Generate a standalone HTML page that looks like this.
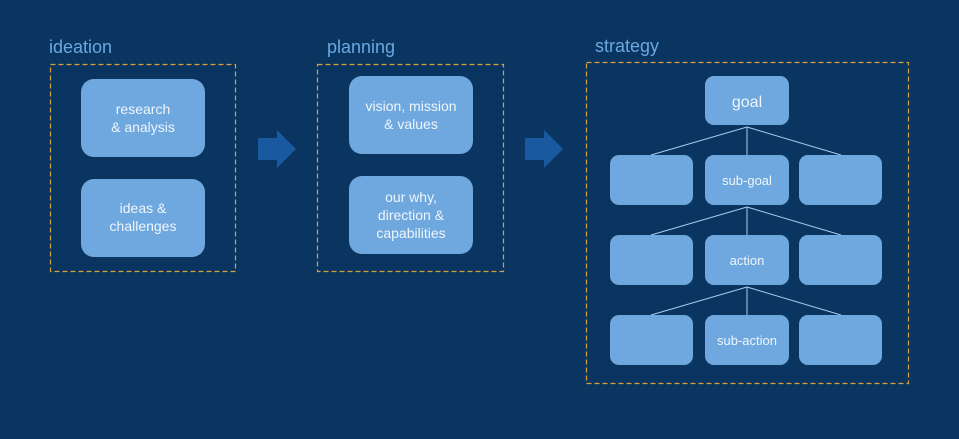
<!DOCTYPE html>
<html><head><style>
body{margin:0;background:#0a3561;}
svg{display:block}
text{font-family:"Liberation Sans",sans-serif;}
</style></head><body>
<svg width="959" height="439" viewBox="0 0 959 439">
<rect width="959" height="439" fill="#0a3561"/>
<g font-size="18" fill="#6aa8e0">
<text x="49" y="53">ideation</text>
<text x="327" y="53">planning</text>
<text x="595" y="52">strategy</text>
</g>
<g fill="none" stroke="#d9a040" stroke-width="1.2" stroke-dasharray="5,3">
<rect x="50.5" y="64.5" width="185" height="207"/>
<rect x="317.5" y="64.5" width="186" height="207"/>
<rect x="586.5" y="62.5" width="322" height="321"/>
</g>
<g fill="#1859a0">
<polygon points="258,138 277,138 277,130 296,149 277,168 277,160 258,160"/>
<polygon points="525,138 544,138 544,130 563,149 544,168 544,160 525,160"/>
</g>
<g stroke="#a8cbee" stroke-width="1">
<line x1="747" y1="127" x2="651" y2="155"/><line x1="747" y1="127" x2="747" y2="155"/><line x1="747" y1="127" x2="841" y2="155"/>
<line x1="747" y1="207" x2="651" y2="235"/><line x1="747" y1="207" x2="747" y2="235"/><line x1="747" y1="207" x2="841" y2="235"/>
<line x1="747" y1="287" x2="651" y2="315"/><line x1="747" y1="287" x2="747" y2="315"/><line x1="747" y1="287" x2="841" y2="315"/>
</g>
<g fill="#6fa8de">
<rect x="81" y="79" width="124" height="78" rx="13"/>
<rect x="81" y="179" width="124" height="78" rx="13"/>
<rect x="349" y="76" width="124" height="78" rx="13"/>
<rect x="349" y="176" width="124" height="78" rx="13"/>
<rect x="705" y="76" width="84" height="49" rx="9"/>
<rect x="610" y="155" width="83" height="50" rx="9"/>
<rect x="705" y="155" width="84" height="50" rx="9"/>
<rect x="799" y="155" width="83" height="50" rx="9"/>
<rect x="610" y="235" width="83" height="50" rx="9"/>
<rect x="705" y="235" width="84" height="50" rx="9"/>
<rect x="799" y="235" width="83" height="50" rx="9"/>
<rect x="610" y="315" width="83" height="50" rx="9"/>
<rect x="705" y="315" width="84" height="50" rx="9"/>
<rect x="799" y="315" width="83" height="50" rx="9"/>
</g>
<g fill="#eef5fc" font-size="14" text-anchor="middle">
<text x="143" y="114">research</text><text x="143" y="132">&amp; analysis</text>
<text x="143" y="213">ideas &amp;</text><text x="143" y="231">challenges</text>
<text x="411" y="111">vision, mission</text><text x="411" y="129">&amp; values</text>
<text x="411" y="202">our why,</text><text x="411" y="220">direction &amp;</text><text x="411" y="238">capabilities</text>
<text x="747" y="107" font-size="16">goal</text>
<text x="747" y="185" font-size="13">sub-goal</text>
<text x="747" y="265" font-size="13">action</text>
<text x="747" y="345" font-size="13">sub-action</text>
</g>
</svg>
</body></html>
